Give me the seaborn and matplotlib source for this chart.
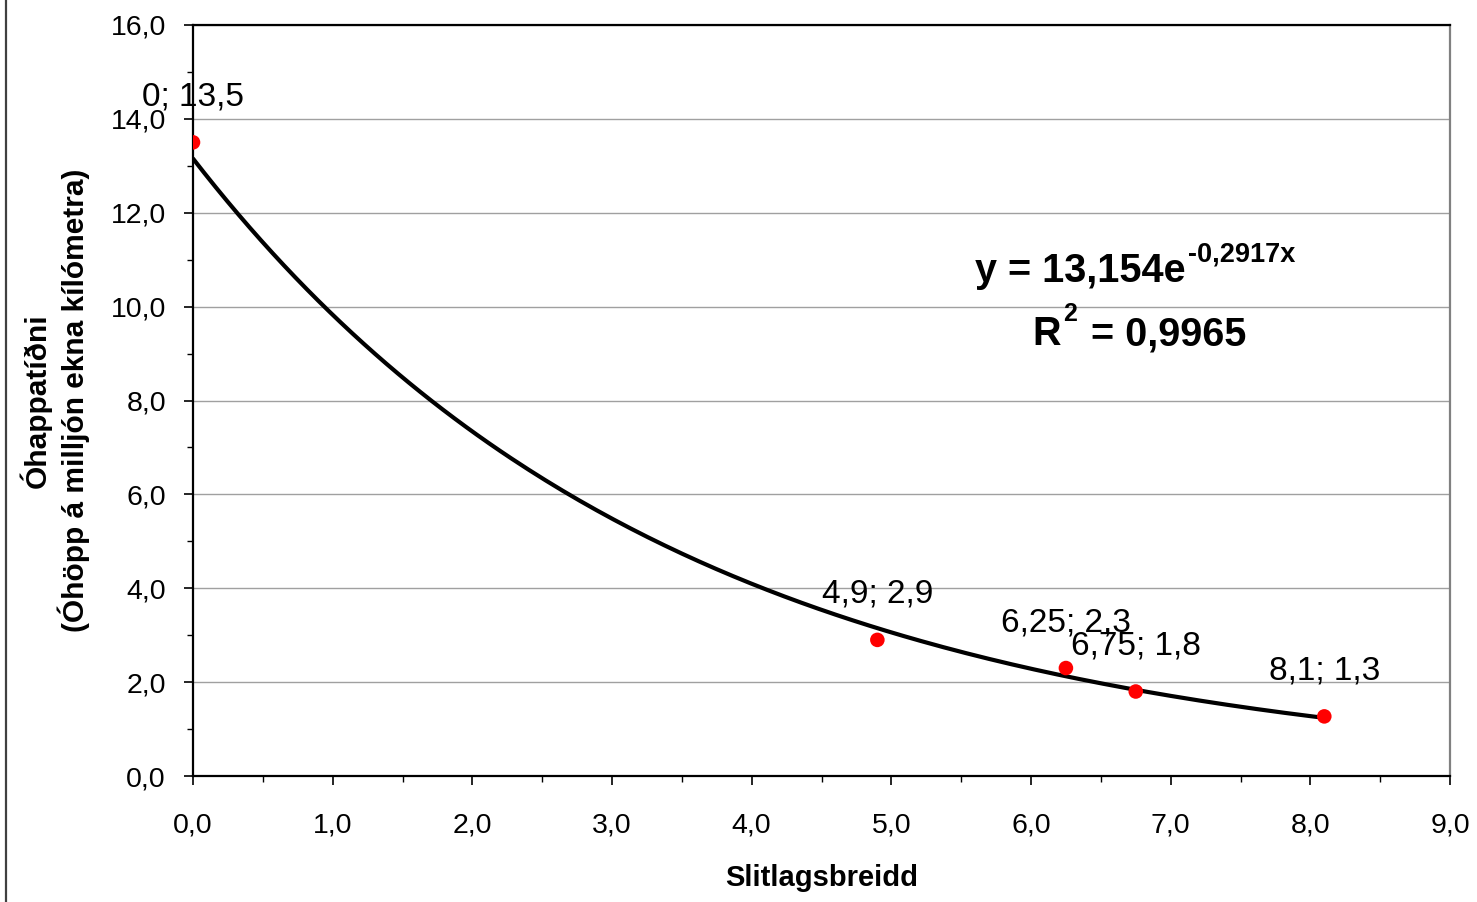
import numpy as np
import pandas as pd
import matplotlib
matplotlib.use("Agg")
import matplotlib.pyplot as plt
import seaborn as sns
from matplotlib.ticker import MultipleLocator, FuncFormatter
from matplotlib.lines import Line2D
from matplotlib.transforms import IdentityTransform

# ---- data ----
breidd = [0.0, 4.9, 6.25, 6.75, 8.1]          # Slitlagsbreidd
tidni = [13.5, 2.9, 2.3, 1.8, 1.27]            # Óhappatíðni
trend_a = 13.154                               # trendline coefficient
trend_b = -0.2917                              # trendline exponent
r2_text = "0,9965"
x_ticks = [0, 1, 2, 3, 4, 5, 6, 7, 8, 9]
y_ticks = [0, 2, 4, 6, 8, 10, 12, 14, 16]

df = pd.DataFrame({"x": breidd, "y": tidni})
xt = np.linspace(min(breidd), max(breidd), 200)
trend = pd.DataFrame({"x": xt, "y": trend_a * np.exp(trend_b * xt)})

sns.set_theme(style="white")
plt.rcParams["font.family"] = ["Liberation Sans", "DejaVu Sans"]
plt.rcParams["text.color"] = "black"
plt.rcParams["axes.labelcolor"] = "black"
plt.rcParams["xtick.color"] = "black"
plt.rcParams["ytick.color"] = "black"

fig = plt.figure(figsize=(14.77, 9.02), dpi=100)
ax = fig.add_axes([193 / 1477, 1 - 776 / 902, (1450 - 193) / 1477, (776 - 25) / 902])

sns.lineplot(data=trend, x="x", y="y", ax=ax, color="black", linewidth=3.0, zorder=3)
sns.scatterplot(data=df, x="x", y="y", ax=ax, color="#FF0000", s=110,
                edgecolor="none", zorder=4)

ax.set_xlim(0, 9)
ax.set_ylim(0, 16)
ax.xaxis.set_minor_locator(MultipleLocator(0.5))
ax.yaxis.set_minor_locator(MultipleLocator(1))
ax.set_xticks(x_ticks)
ax.set_yticks(y_ticks)
fmt = FuncFormatter(lambda v, p: f"{v:.1f}".replace(".", ","))
ax.xaxis.set_major_formatter(fmt)
ax.yaxis.set_major_formatter(fmt)

ax.tick_params(axis="both", which="major", direction="out", length=6.5, width=1.2,
               color="black", labelsize=20.5, labelcolor="black")
ax.tick_params(axis="both", which="minor", direction="out", length=4.5, width=1.0,
               color="black")
ax.tick_params(axis="x", which="both", bottom=True, pad=20)
ax.tick_params(axis="y", which="both", left=True, pad=13)

ax.grid(axis="y", which="major", color="#A0A0A0", linewidth=1.0)
ax.set_axisbelow(True)
for s in ["left", "bottom", "top"]:
    ax.spines[s].set_color("black")
    ax.spines[s].set_linewidth(1.6)
ax.spines["right"].set_color("#808080")
ax.spines["right"].set_linewidth(1.6)

ax.set_xlabel("Slitlagsbreidd", fontsize=21, fontweight="bold", labelpad=18)
ax.set_ylabel("Óhappatíðni\n(Óhöpp á milljón ekna kílómetra)", fontsize=21.5,
              fontweight="bold", labelpad=15, linespacing=1.2)

# data labels
for x, y in zip(breidd, tidni):
    lab = f"{x:g}".replace(".", ",") + "; " + f"{y:.1f}".replace(".", ",")
    ax.annotate(lab, (x, y), xytext=(0, 37), textcoords="offset pixels",
                ha="center", va="baseline", fontsize=24, color="black", zorder=5)

# trendline equation (main text placed, superscripts chained after rendering)
t1 = ax.text(5.60, 10.525, "y = 13,154e", fontsize=28.5, fontweight="bold",
             ha="left", va="baseline", color="black")
t3 = ax.text(6.007, 9.182, "R", fontsize=28.5, fontweight="bold",
             ha="left", va="baseline", color="black")

fig.canvas.draw()
r = fig.canvas.get_renderer()


def after(prev, base_px, text, size, gap, rise):
    bb = prev.get_window_extent(r)
    t = fig.text(bb.x1 + gap, base_px + rise, text, fontsize=size, fontweight="bold",
                 ha="left", va="baseline", color="black", transform=IdentityTransform())
    return t


b1 = ax.transData.transform((5.60, 10.525))[1]
b2 = ax.transData.transform((6.007, 9.182))[1]
after(t1, b1, "-0,2917x", 19.5, 2, 20)
t4 = after(t3, b2, "2", 18, 3, 24)
fig.canvas.draw()
after(t4, b2, "= " + r2_text, 28.5, 14, 0)

fig.add_artist(Line2D([6 / 1477, 6 / 1477], [0, 1], transform=fig.transFigure,
                      color="#404040", linewidth=1.6))

fig.savefig("out.png", dpi=100)
